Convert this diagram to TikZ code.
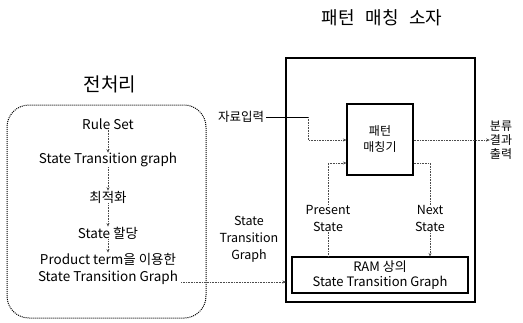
\documentclass[tikz,border=0pt]{standalone}
\usepackage{fontspec}
\setmainfont{Noto Sans CJK KR}
\usetikzlibrary{arrows.meta}
\begin{document}
\begin{tikzpicture}[x=1pt,y=-1pt,
  lbl/.style={inner sep=0pt,align=center,font=\fontsize{13.5}{17}\selectfont},
  small/.style={inner sep=0pt,align=center,font=\fontsize{12.5}{17}\selectfont},
  conn/.style={draw=black!70,densely dotted,line width=0.6pt,-{Stealth[length=3.5pt,width=3pt]}},
  frame/.style={draw=black,line width=1.1pt}]
\useasboundingbox (0,0) rectangle (523,322);
% left group
\node[font=\fontsize{19}{22}\selectfont,inner sep=0pt] (t1) at (110,84) {전처리};
\draw[densely dotted,line width=1pt,rounded corners=22pt] (7,105) rectangle (206,318);
\node[lbl] (a) at (108,124) {Rule Set};
\node[lbl] (b) at (108,160) {State Transition graph};
\node[lbl] (c) at (108,197) {최적화};
\node[lbl] (d) at (108,233) {State 할당};
\node[lbl] (e) at (108,268.5) {Product term을 이용한\\State Transition Graph};
\draw[conn] (a) -- (b);
\draw[conn] (b) -- (c);
\draw[conn] (c) -- (d);
\draw[conn] (d) -- (e);
% right group
\node[font=\fontsize{18}{22}\selectfont,inner sep=0pt] (t2) at (382,18) {패턴\hspace{0.6em}매칭\hspace{0.6em}소자};
\draw[frame] (286,58) rectangle (475,302);
\node[frame,minimum width=66pt,minimum height=71pt,inner sep=0pt,align=center,font=\fontsize{12}{16}\selectfont] (pm) at (380,139.5) {패턴\\매칭기};
\node[frame,minimum width=176pt,minimum height=36pt,inner sep=0pt,align=center,font=\fontsize{13}{15}\selectfont] (ram) at (380,275) {RAM 상의\\State Transition Graph};
\node[small] (in) at (241,117) {자료입력};
\coordinate (c1) at (308,117);
\draw[line width=0.6pt] (in.east) ++(2pt,0) -- (c1);
\draw[conn] (c1) |- (pm.west |- 0,140);
\node[inner sep=0pt,align=center,font=\fontsize{12}{14}\selectfont] (out) at (501,140) {분류\\결과\\출력};
\draw[conn] (pm.east |- 0,140) -- (out.west);
\node[small] (ps) at (328,218) {Present\\State};
\node[small] (ns) at (430,218) {Next\\State};
\draw[draw=black!70,densely dotted,line width=0.6pt] (ram.north -| ps) -- (ps.south);
\draw[conn] (ps.north) |- (pm.west |- 0,163);
\draw[draw=black!70,densely dotted,line width=0.6pt] (pm.east |- 0,163) -| (ns.north);
\draw[conn] (ns.south) -- (ram.north -| ns);
\node[small] (stg) at (249,239) {State\\Transition\\Graph};
\draw[conn] (e.east |- 0,282) ++(3pt,0) -- (286,282);
\end{tikzpicture}
\end{document}
